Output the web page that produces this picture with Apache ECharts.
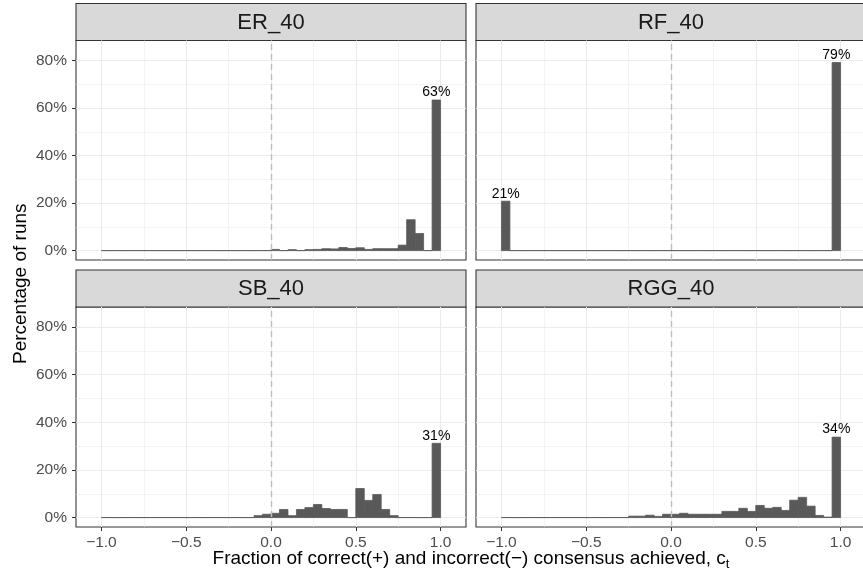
<!DOCTYPE html>
<html><head><meta charset="utf-8">
<script src="https://cdn.jsdelivr.net/npm/echarts@6/dist/echarts.min.js"></script>
<style>html,body{margin:0;padding:0;background:#fff}#c{width:863px;height:580px}</style>
</head><body><div id="c"></div>
<script>
// ---- data ----
const panelNames = ['ER_40', 'RF_40', 'SB_40', 'RGG_40'];
const binLeft = [-1.00,-0.95,-0.90,-0.85,-0.80,-0.75,-0.70,-0.65,-0.60,-0.55,
                 -0.50,-0.45,-0.40,-0.35,-0.30,-0.25,-0.20,-0.15,-0.10,-0.05,
                  0.00, 0.05, 0.10, 0.15, 0.20, 0.25, 0.30, 0.35, 0.40, 0.45,
                  0.50, 0.55, 0.60, 0.65, 0.70, 0.75, 0.80, 0.85, 0.90, 0.95];
const binWidth = 0.05;
const er40 = [0,0,0,0,0,0,0,0,0,0, 0,0,0,0,0,0,0,0,0,0,
              0.5,0,0.4,0,0.4,0.5,0.8,0.7,1.3,0.9, 1.2,0.5,0.8,0.8,0.8,2.3,13.0,7.2,0,63.4];
const rf40 = [20.8,0,0,0,0,0,0,0,0,0, 0,0,0,0,0,0,0,0,0,0,
              0,0,0,0,0,0,0,0,0,0, 0,0,0,0,0,0,0,0,0,79.2];
const sb40 = [0,0,0,0,0,0,0,0,0,0, 0,0,0,0,0,0,0,0,0.8,1.4,
              1.8,3.4,0.8,3.4,4.2,5.5,3.8,3.4,3.4,0, 12.2,7.2,9.7,3.4,0.8,0,0,0,0,31.2];
const rgg40 = [0,0,0,0,0,0,0,0,0,0, 0,0,0,0,0,0.6,0.6,1.0,0.5,1.4,
               1.4,1.8,1.4,1.4,1.4,1.4,2.6,2.6,3.9,2.6, 5.1,3.9,4.3,3.0,7.3,8.5,4.8,0.9,0.2,33.8];
const panelValues = [er40, rf40, sb40, rgg40];
const xMajorTicks = [-1, -0.5, 0, 0.5, 1];
const xMinorTicks = [-0.75, -0.25, 0.25, 0.75];
const yMajorTicks = [0, 20, 40, 60, 80];
const yMinorTicks = [10, 30, 50, 70];
const refLine = 0;
const labelMin = 20;
const xTitle = 'Fraction of correct(+) and incorrect(\u2212) consensus achieved, c';
const xTitleSub = 't';
const yTitle = 'Percentage of runs';

// ---- layout / style ----
const FONT = '"Liberation Sans", Arial, Helvetica, sans-serif';
const LEFTS = [76, 476], TOPS = [40.5, 307], HS = [219.5, 220], W = 390;
const STRIP_TOPS = [3.5, 270], STRIP_H = 37;
const X_MIN = -1.15, X_MAX = 1.15, Y_MIN = -3.96, Y_MAX = 88.46;
const BAR = '#595959', GRID = '#ebebeb', BORDER = '#333333';

const fmtX = v => (v < 0 ? '\u2212' : '') + Math.abs(v).toFixed(1);

const grids = [], xAxes = [], yAxes = [], series = [], graphics = [];
panelNames.forEach((name, i) => {
  const col = i % 2, row = Math.floor(i / 2);
  grids.push({left: LEFTS[col], top: TOPS[row], width: W, height: HS[row],
    show: true, borderColor: BORDER, borderWidth: 1.07, backgroundColor: '#fff',
    containLabel: false, outerBoundsMode: 'none'});
  xAxes.push({type: 'value', gridIndex: i, min: X_MIN, max: X_MAX, position: 'bottom',
    axisLine: {show: false, onZero: false},
    axisTick: {show: row === 1, customValues: xMajorTicks, length: 4, lineStyle: {color: BORDER, width: 1}},
    axisLabel: {show: row === 1, customValues: xMajorTicks, formatter: fmtX, color: '#4d4d4d',
      fontSize: 15.5, fontFamily: FONT, margin: 8},
    splitLine: {show: true, lineStyle: {color: GRID, width: 1.07}}});
  xAxes.push({type: 'value', gridIndex: i, min: X_MIN, max: X_MAX, position: 'top',
    axisLine: {show: false, onZero: false},
    axisTick: {show: false, customValues: xMinorTicks},
    axisLabel: {show: false, customValues: xMinorTicks},
    splitLine: {show: true, lineStyle: {color: GRID, width: 0.55}}});
  yAxes.push({type: 'value', gridIndex: i, min: Y_MIN, max: Y_MAX, position: 'left',
    axisLine: {show: false, onZero: false},
    axisTick: {show: col === 0, customValues: yMajorTicks, length: 4, lineStyle: {color: BORDER, width: 1}},
    axisLabel: {show: col === 0, customValues: yMajorTicks, formatter: v => v + '%', color: '#4d4d4d',
      fontSize: 15.5, fontFamily: FONT, margin: 9},
    splitLine: {show: true, lineStyle: {color: GRID, width: 1.07}}});
  yAxes.push({type: 'value', gridIndex: i, min: Y_MIN, max: Y_MAX, position: 'right',
    axisLine: {show: false, onZero: false},
    axisTick: {show: false, customValues: yMinorTicks},
    axisLabel: {show: false, customValues: yMinorTicks},
    splitLine: {show: true, lineStyle: {color: GRID, width: 0.55}}});

  const vals = panelValues[i];
  const data = binLeft.map((l, k) => [l, l + binWidth, vals[k]]);
  series.push({type: 'line', xAxisIndex: 2 * i, yAxisIndex: 2 * i, data: [], silent: true,
    markLine: {silent: true, symbol: 'none', label: {show: false}, animation: false,
      lineStyle: {type: [6, 4], color: '#bebebe', width: 1.4},
      data: [{xAxis: refLine}]}});
  series.push({type: 'custom', xAxisIndex: 2 * i, yAxisIndex: 2 * i, data: data, clip: false,
    encode: {x: [0, 1], y: 2}, silent: true, animation: false,
    renderItem: (params, api) => {
      const l = api.value(0), r = api.value(1), v = api.value(2);
      const tl = api.coord([l, v]), br = api.coord([r, 0]);
      const children = [{type: 'rect',
        shape: {x: tl[0], y: tl[1], width: br[0] - tl[0], height: br[1] - tl[1]},
        style: {fill: BAR, stroke: BAR, lineWidth: 0.8}}];
      if (v >= labelMin) {
        children.push({type: 'text', x: (tl[0] + br[0]) / 2, y: tl[1] - 0.5,
          style: {text: Math.round(v) + '%', fill: '#000', fontSize: 14, fontFamily: FONT,
            align: 'center', verticalAlign: 'bottom'}});
      }
      return {type: 'group', children: children};
    }});

  graphics.push({type: 'rect', shape: {x: LEFTS[col], y: STRIP_TOPS[row], width: W, height: STRIP_H},
    style: {fill: '#d9d9d9', stroke: BORDER, lineWidth: 1.07}, silent: true});
  graphics.push({type: 'text', x: LEFTS[col] + W / 2, y: STRIP_TOPS[row] + STRIP_H / 2 + 0.5,
    style: {text: name, fill: '#1a1a1a', fontSize: 22, fontFamily: FONT, align: 'center', verticalAlign: 'middle'},
    silent: true});
});

graphics.push({type: 'text', x: (LEFTS[0] + LEFTS[1] + W) / 2, y: 559,
  style: {text: '{m|' + xTitle + '}{s|' + xTitleSub + '}',
    rich: {m: {fontSize: 19, fontFamily: FONT, fill: '#000', lineHeight: 24, verticalAlign: 'middle'},
           s: {fontSize: 13, fontFamily: FONT, fill: '#000', lineHeight: 13, verticalAlign: 'bottom'}},
    align: 'center', verticalAlign: 'middle'}, silent: true});
graphics.push({type: 'text', x: 21, y: (TOPS[0] + TOPS[1] + HS[1]) / 2, rotation: Math.PI / 2,
  style: {text: yTitle, fill: '#000', fontSize: 19, fontFamily: FONT, align: 'center', verticalAlign: 'middle'},
  silent: true});

const chart = echarts.init(document.getElementById('c'), null, {renderer: 'canvas'});
chart.setOption({
  animation: false,
  backgroundColor: '#ffffff',
  grid: grids, xAxis: xAxes, yAxis: yAxes, series: series,
  graphic: {elements: graphics}
});
</script></body></html>
